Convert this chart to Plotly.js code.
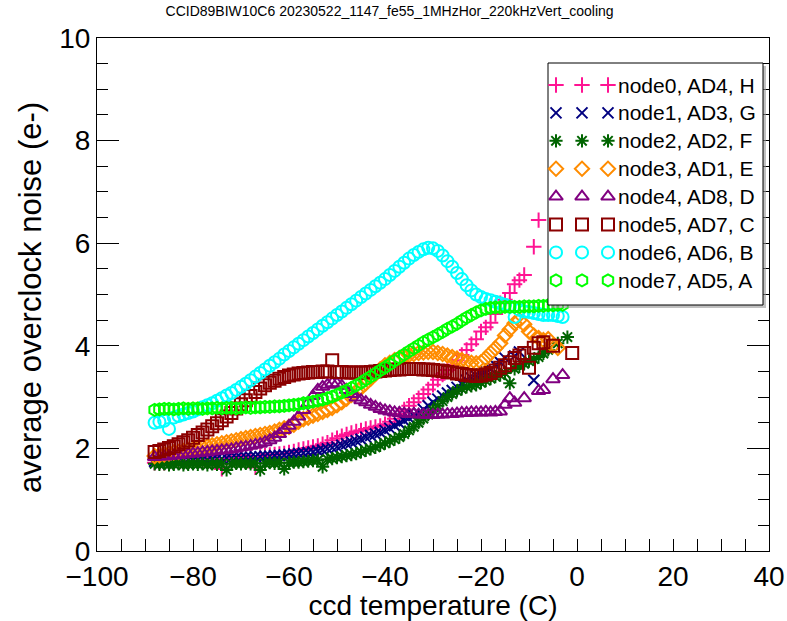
<!DOCTYPE html>
<html><head><meta charset="utf-8">
<script src="https://cdn.plot.ly/plotly-3.0.1.min.js"></script>
<style>html,body{margin:0;padding:0;background:#fff}#chart{width:787px;height:621px}</style>
</head><body><div id="chart"></div>
<script>
// ccd temperature (C), shared by all nodes
const temperature = [
-88,-87,-86,-85,-84,-83,-82,-81,-80,-79,
-78,-77,-76,-75,-74,-73,-72,-71,-70,-69,
-68,-67,-66,-65,-64,-63,-62,-61,-60,-59,
-58,-57,-56,-55,-54,-53,-52,-51,-50,-49,
-48,-47,-46,-45,-44,-43,-42,-41,-40,-39,
-38,-37,-36,-35,-34,-33,-32,-31,-30,-29,
-28,-27,-26,-25,-24,-23,-22,-21,-20,-19,
-18,-17,-16,-15,-14,-13,-12,-11,-10,-9,
-8,-7,-6,-5,-4,-3,-2,-1];

const node0 = [
1.72,1.73,1.72,1.74,1.73,1.75,1.74,1.76,1.75,1.77,
1.76,1.78,1.77,1.79,1.60,1.80,1.81,1.80,1.83,1.82,
1.84,1.63,1.85,1.86,1.87,1.88,1.89,1.90,1.92,1.94,
1.97,1.99,2.01,2.03,2.05,2.08,2.11,2.16,2.20,2.24,
2.27,2.30,2.33,2.35,2.38,2.40,2.42,2.44,2.47,2.52,
2.58,2.67,2.76,2.83,2.90,2.98,3.06,3.15,3.24,3.34,
3.44,3.53,3.63,3.72,3.82,3.92,4.03,4.13,4.28,4.36,
4.45,4.62,4.83,4.90,5.03,5.20,5.28,5.38,null,5.93,
6.45,null,null,null,null,null,null,null];

const node1 = [
1.75,1.76,1.75,1.76,1.77,1.76,1.77,1.78,1.77,1.78,
1.79,1.78,1.79,1.80,1.80,1.81,1.81,1.82,1.82,1.83,
1.83,1.84,1.84,1.85,1.85,1.86,1.86,1.87,1.88,1.89,
1.90,1.91,1.92,1.93,1.95,1.97,1.99,2.01,2.03,2.06,
2.09,2.12,2.15,2.18,2.22,2.25,2.28,2.31,2.35,2.39,
2.44,2.49,2.54,2.59,2.64,2.69,2.76,2.83,2.90,2.96,
3.02,3.08,3.13,3.19,3.26,3.33,3.37,3.41,3.45,3.50,
3.55,3.62,3.68,3.76,null,3.80,3.88,null,null,3.33,
null,null,null,null,null,null,null,null];

const node2 = [
1.70,1.69,1.70,1.68,1.69,1.70,1.68,1.69,1.70,1.69,
1.70,1.68,1.70,1.69,1.70,1.58,1.70,1.71,1.70,1.71,
1.70,1.71,1.58,1.71,1.72,1.71,1.72,1.60,1.72,1.73,
1.73,1.74,1.75,1.76,1.77,1.64,1.79,1.80,1.82,1.84,
1.86,1.88,1.90,1.93,1.96,1.99,2.02,2.06,2.10,2.14,
2.18,2.22,2.28,2.35,2.42,2.50,2.58,2.66,2.75,2.83,
2.92,3.00,3.06,3.12,3.16,3.20,3.22,3.24,3.28,3.32,
3.36,3.40,3.43,3.47,3.27,3.55,3.60,3.65,3.70,3.74,
3.78,3.85,3.92,null,4.05,null,4.17,null];

const node3 = [
1.85,1.87,1.88,1.90,1.92,1.93,1.95,1.97,1.98,2.00,
2.02,2.04,2.06,2.08,2.10,2.12,2.14,2.16,2.18,2.20,
2.22,2.24,2.26,2.28,2.30,2.33,2.36,2.39,2.42,2.46,
2.52,2.57,2.60,2.64,2.67,2.71,2.75,2.79,2.84,2.90,
2.97,3.04,3.11,3.18,3.27,3.36,3.45,3.54,3.62,3.67,
3.72,3.76,3.79,3.82,3.84,3.86,3.87,3.88,3.88,3.86,
3.84,3.81,3.78,3.75,3.72,3.69,3.67,3.66,3.68,3.76,
3.86,3.95,4.05,4.20,4.32,4.44,4.50,4.42,4.28,4.20,
4.15,4.11,4.13,4.00,3.96,null,null,null];

const node4 = [
1.83,1.84,1.84,1.85,1.86,1.87,1.88,1.89,1.90,1.91,
1.92,1.93,1.94,1.95,1.96,1.97,1.98,2.00,2.02,2.03,
2.05,2.07,2.09,2.12,2.16,2.21,2.28,2.36,2.44,2.52,
2.62,2.75,2.88,3.02,3.14,3.20,3.24,3.27,3.26,3.22,
3.14,3.06,2.99,2.94,2.90,2.85,2.81,2.77,2.74,2.72,
2.70,2.69,2.68,2.67,2.67,2.66,2.66,2.65,2.65,2.66,
2.66,2.67,2.67,2.68,2.69,2.69,2.70,2.70,2.70,2.71,
2.70,2.71,2.72,2.85,2.98,2.89,null,2.98,null,null,
3.12,3.14,null,3.35,null,3.43,null,null];

const node5 = [
1.93,1.95,1.98,2.01,2.04,2.08,2.12,2.16,2.21,2.26,
2.31,2.37,2.43,2.49,2.55,2.62,2.69,2.78,2.86,2.94,
3.02,3.10,3.17,3.23,3.28,3.32,3.36,3.39,3.42,3.44,
3.46,3.47,3.48,3.49,3.49,3.50,3.50,3.72,3.49,3.49,
3.48,3.48,3.48,3.48,3.48,3.49,3.50,3.51,3.52,3.53,
3.54,3.54,3.55,3.55,3.55,3.55,3.54,3.54,3.53,3.52,
3.51,3.49,3.48,3.46,3.45,3.43,3.42,3.41,3.42,3.44,
3.47,3.52,3.57,3.62,3.68,3.76,3.81,3.86,3.57,3.96,
4.05,4.07,null,4.00,null,null,null,3.86];

const node6 = [
2.50,2.52,2.54,2.38,2.60,2.63,2.66,2.69,2.72,2.76,
2.80,2.84,2.88,2.93,2.98,3.03,3.08,3.14,3.20,3.26,
3.33,3.40,3.47,3.54,3.61,3.68,3.75,3.83,3.90,3.97,
4.04,4.11,4.18,4.25,4.32,4.39,4.46,4.53,4.60,4.67,
4.74,4.81,4.88,4.95,5.02,5.09,5.16,5.23,5.30,5.38,
5.46,5.54,5.62,5.70,5.77,5.83,5.88,5.91,5.90,5.85,
5.76,5.65,5.54,5.42,5.30,5.18,5.08,5.00,4.95,4.91,
4.89,4.86,4.83,4.80,4.76,4.56,4.70,4.67,4.66,4.64,
4.62,4.60,4.60,4.60,4.58,4.56,null,null];

const node7 = [
2.75,2.76,2.77,2.77,2.76,2.77,2.78,2.77,2.78,2.78,
2.77,2.78,2.78,2.79,2.78,2.79,2.79,2.78,2.79,2.80,
2.79,2.80,2.80,2.81,2.81,2.82,2.82,2.83,2.84,2.85,
2.86,2.88,2.89,2.91,2.93,2.95,2.98,3.01,3.05,3.09,
3.13,3.18,3.23,3.28,3.34,3.40,3.46,3.52,3.58,3.64,
3.71,3.77,3.83,3.89,3.95,4.01,4.07,4.12,4.17,4.22,
4.27,4.33,4.38,4.43,4.49,4.55,4.60,4.65,4.69,4.72,
4.74,4.75,4.75,4.76,4.76,4.76,4.76,4.77,4.77,4.77,
4.78,4.78,4.79,4.79,4.80,4.80,null,null];

const seriesNames = ['node0, AD4, H','node1, AD3, G','node2, AD2, F','node3, AD1, E',
                     'node4, AD8, D','node5, AD7, C','node6, AD6, B','node7, AD5, A'];
const seriesValues = [node0,node1,node2,node3,node4,node5,node6,node7];
const seriesColors = ['#ff1493','#000080','#006400','#ff8c00','#800080','#8b0000','#00ffff','#00ff00'];
const seriesSymbols = ['cross-thin-open','x-thin-open','asterisk-open','diamond-open',
                       'triangle-up-open','square-open','circle-open','hexagon-open'];
const seriesSizes = [11,11,11,11,12,12,12,12];

const chartTitle = 'CCID89BIW10C6 20230522_1147_fe55_1MHzHor_220kHzVert_cooling';
const xTitle = 'ccd temperature (C)';
const yTitle = 'average overclock noise (e-)';

// plot-area geometry in pixels (used for the legend overlay)
const W = 787, H = 621, ML = 97, MR = 18, MT = 38, MB = 70;
const PW = W - ML - MR, PH = H - MT - MB;

const traces = [];
seriesValues.forEach((vals, i) => {
  traces.push({
    type: 'scatter', mode: 'markers', x: temperature, y: vals, name: seriesNames[i],
    showlegend: false, cliponaxis: true,
    marker: {symbol: seriesSymbols[i], size: seriesSizes[i], color: seriesColors[i],
             line: {color: seriesColors[i], width: 2}}
  });
});

// custom legend drawn on an overlay axis measured in plot pixels
const box = {x0: 548 - ML, x1: 763 - ML, y0: H - MB - 305, y1: H - MB - 63};
traces.push({type:'scatter', mode:'lines', xaxis:'x2', yaxis:'y2', showlegend:false, hoverinfo:'skip',
  x:[box.x0+3, box.x1+3, box.x1+3, box.x0+3, box.x0+3], y:[box.y0-3, box.y0-3, box.y1-3, box.y1-3, box.y0-3],
  fill:'toself', fillcolor:'rgba(150,150,150,0.6)', line:{width:0, color:'rgba(0,0,0,0)'}});
traces.push({type:'scatter', mode:'lines', xaxis:'x2', yaxis:'y2', showlegend:false, hoverinfo:'skip',
  x:[box.x0, box.x1, box.x1, box.x0, box.x0], y:[box.y0, box.y0, box.y1, box.y1, box.y0],
  fill:'toself', fillcolor:'#ffffff', line:{width:1, color:'#000000'}});
const fontFam = 'Liberation Sans, Arial, Helvetica, sans-serif';
const annotations = [];
const rowTop = H - MB - 85, rowStep = 27.9;
const symX = [556 - ML, 582 - ML, 608 - ML];
seriesNames.forEach((nm, i) => {
  const ry = rowTop - i * rowStep;
  traces.push({type:'scatter', mode:'markers', xaxis:'x2', yaxis:'y2', showlegend:false, hoverinfo:'skip',
    x: symX, y: [ry, ry, ry],
    marker: {symbol: seriesSymbols[i], size: seriesSizes[i], color: seriesColors[i],
             line: {color: seriesColors[i], width: 2}}});
  annotations.push({xref:'paper', yref:'paper', x:(616 - ML)/PW, y: ry/PH, xanchor:'left', yanchor:'middle',
    text: nm, showarrow:false, font:{family:fontFam, size:21, color:'#000'}});
});
// y-axis title placed as a rotated annotation
annotations.push({xref:'paper', yref:'paper', x:(30 - ML)/PW, y:(H - MB - 298)/PH, xanchor:'center', yanchor:'middle',
  textangle:-90, text: yTitle, showarrow:false, font:{family:fontFam, size:31, color:'#000'}});

const layout = {
  width: W, height: H,
  margin: {l: ML, r: MR, t: MT, b: MB, pad: 0},
  paper_bgcolor: '#fff', plot_bgcolor: '#fff',
  font: {family: fontFam, color: '#000'},
  title: {text: chartTitle, font: {size: 14, family: fontFam, color: '#000'}, x: 0.495, xref: 'container', y: 0.982, yref:'container', yanchor: 'middle'},
  // bottom axis: all ticks short
  xaxis: {range: [-100, 40], tick0: -100, dtick: 20, ticks: 'inside', ticklen: 12, tickwidth: 1, tickcolor: '#000',
          showline: true, linecolor: '#000', linewidth: 1, mirror: true, showgrid: false, zeroline: false,
          layer: 'below traces',
          minor: {dtick: 5, ticks: 'inside', ticklen: 12, tickcolor: '#000', tickwidth: 1, showgrid: false},
          tickfont: {size: 28, family: fontFam, color: '#000'},
          title: {text: xTitle, font: {size: 28, family: fontFam, color: '#000'}, standoff: 2}},
  // top axis: long major ticks, short minor ticks, no labels
  xaxis3: {overlaying: 'x', anchor: 'y', side: 'top', range: [-100, 40], tick0: -100, dtick: 20,
           ticks: 'inside', ticklen: 22, tickwidth: 1, tickcolor: '#000', showticklabels: false,
           showline: false, showgrid: false, zeroline: false, layer: 'below traces', fixedrange: true,
           minor: {dtick: 5, ticks: 'inside', ticklen: 11, tickcolor: '#000', tickwidth: 1, showgrid: false}},
  yaxis: {range: [0, 10], tick0: 0, dtick: 2, ticks: 'inside', ticklen: 22, tickwidth: 1, tickcolor: '#000',
          showline: true, linecolor: '#000', linewidth: 1, mirror: 'allticks', showgrid: false, zeroline: false,
          layer: 'below traces',
          minor: {dtick: 0.5, ticks: 'inside', ticklen: 11, tickcolor: '#000', tickwidth: 1, showgrid: false},
          tickfont: {size: 28, family: fontFam, color: '#000'}},
  xaxis2: {overlaying: 'x', range: [0, PW], visible: false, fixedrange: true},
  yaxis2: {overlaying: 'y', range: [0, PH], visible: false, fixedrange: true},
  annotations: annotations,
  showlegend: false
};
Plotly.newPlot('chart', traces, layout, {displayModeBar: false, staticPlot: true});
</script>
</body></html>
